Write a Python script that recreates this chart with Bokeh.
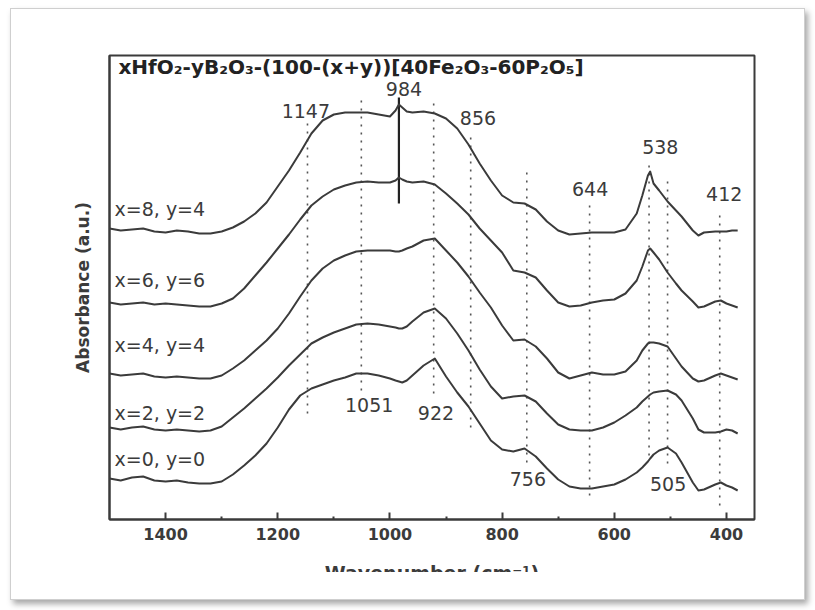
from bokeh.plotting import figure
from bokeh.models import Range1d, Label, FixedTicker
from bokeh.layouts import column
from bokeh.embed import file_html
from bokeh.resources import INLINE

# ---- data: FTIR absorbance (stacked, a.u.) vs wavenumber (cm^-1) ----
wavenumber = [1500, 1480, 1460, 1440, 1420, 1400, 1380, 1360, 1340, 1320,
              1300, 1280, 1260, 1240, 1220, 1200, 1180, 1160, 1140, 1120,
              1100, 1080, 1060, 1040, 1020, 1000, 990, 984, 978, 970,
              960, 940, 920, 900, 880, 860, 840, 820, 800, 780,
              760, 740, 720, 700, 680, 660, 640, 620, 600, 580,
              560, 550, 540, 536, 530, 520, 505, 490, 480, 460,
              450, 440, 420, 410, 400, 390, 380]

abs_x0_y0 = [0.41, 0.39, 0.42, 0.43, 0.39, 0.38, 0.39, 0.37, 0.36, 0.36,
             0.38, 0.45, 0.54, 0.64, 0.76, 0.92, 1.10, 1.24, 1.31, 1.35,
             1.39, 1.42, 1.46, 1.46, 1.44, 1.41, 1.39, 1.38, 1.37, 1.39,
             1.44, 1.54, 1.61, 1.43, 1.27, 1.13, 0.96, 0.79, 0.70, 0.68,
             0.71, 0.63, 0.51, 0.40, 0.33, 0.31, 0.31, 0.33, 0.35, 0.40,
             0.47, 0.52, 0.58, 0.61, 0.65, 0.69, 0.72, 0.66, 0.57, 0.37,
             0.29, 0.30, 0.35, 0.37, 0.34, 0.32, 0.29]

abs_x2_y2 = [0.92, 0.90, 0.92, 0.93, 0.90, 0.89, 0.90, 0.89, 0.88, 0.89,
             0.93, 1.02, 1.11, 1.21, 1.31, 1.42, 1.54, 1.65, 1.76, 1.82,
             1.87, 1.91, 1.95, 1.96, 1.95, 1.93, 1.92, 1.91, 1.91, 1.93,
             1.98, 2.07, 2.11, 2.01, 1.86, 1.69, 1.50, 1.33, 1.21, 1.23,
             1.24, 1.18, 1.06, 0.95, 0.90, 0.89, 0.89, 0.92, 0.97, 1.04,
             1.12, 1.18, 1.23, 1.25, 1.27, 1.28, 1.29, 1.25, 1.19, 1.01,
             0.90, 0.87, 0.87, 0.88, 0.90, 0.89, 0.86]

abs_x4_y4 = [1.46, 1.44, 1.45, 1.46, 1.43, 1.42, 1.43, 1.42, 1.41, 1.41,
             1.44, 1.51, 1.59, 1.69, 1.79, 1.91, 2.06, 2.23, 2.39, 2.51,
             2.59, 2.64, 2.68, 2.69, 2.69, 2.69, 2.68, 2.68, 2.69, 2.71,
             2.73, 2.79, 2.81, 2.69, 2.57, 2.43, 2.27, 2.12, 1.94, 1.79,
             1.80, 1.73, 1.61, 1.47, 1.41, 1.44, 1.47, 1.45, 1.45, 1.48,
             1.59, 1.69, 1.76, 1.77, 1.77, 1.76, 1.73, 1.61, 1.53, 1.41,
             1.38, 1.39, 1.44, 1.46, 1.44, 1.42, 1.40]

abs_x6_y6 = [2.17, 2.15, 2.16, 2.17, 2.15, 2.16, 2.15, 2.14, 2.13, 2.13,
             2.16, 2.21, 2.31, 2.44, 2.57, 2.71, 2.85, 3.00, 3.14, 3.23,
             3.30, 3.34, 3.37, 3.38, 3.37, 3.37, 3.39, 3.42, 3.40, 3.38,
             3.37, 3.38, 3.35, 3.26, 3.16, 3.05, 2.91, 2.79, 2.67, 2.49,
             2.47, 2.42, 2.29, 2.17, 2.13, 2.14, 2.17, 2.19, 2.20, 2.26,
             2.39, 2.53, 2.69, 2.71, 2.67, 2.60, 2.47, 2.36, 2.29, 2.18,
             2.12, 2.13, 2.18, 2.19, 2.16, 2.14, 2.12]

abs_x8_y4 = [2.91, 2.89, 2.90, 2.91, 2.88, 2.87, 2.89, 2.88, 2.86, 2.86,
             2.88, 2.92, 2.98, 3.06, 3.17, 3.33, 3.49, 3.67, 3.86, 3.99,
             4.05, 4.07, 4.07, 4.07, 4.05, 4.03, 4.09, 4.15, 4.12, 4.08,
             4.07, 4.08, 4.06, 4.01, 3.91, 3.75, 3.56, 3.39, 3.24, 3.17,
             3.16, 3.10, 2.98, 2.89, 2.85, 2.86, 2.87, 2.87, 2.87, 2.90,
             3.06, 3.24, 3.44, 3.48, 3.36, 3.29, 3.18, 3.09, 3.03, 2.89,
             2.84, 2.87, 2.88, 2.88, 2.88, 2.89, 2.89]

spectra = [abs_x0_y0, abs_x2_y2, abs_x4_y4, abs_x6_y6, abs_x8_y4]
compositions = ["x=0, y=0", "x=2, y=2", "x=4, y=4", "x=6, y=6", "x=8, y=4"]

band_centres = [1147, 1051, 922, 856, 756, 644, 538, 505, 412]
marked_band = 984
x_ticks = [1400, 1200, 1000, 800, 600, 400]
x_minor_ticks = [1300, 1100, 900, 700, 500]

title_text = "xHfO\u2082-yB\u2082O\u2083-(100-(x+y))[40Fe\u2082O\u2083-60P\u2082O\u2085]"

# ---- styling / layout ----
INK = "#3b3b3b"
FONT = "DejaVu Sans"

p = figure(width=793, height=590,
           x_range=Range1d(1500, 350), y_range=Range1d(0, 4.64),
           output_backend="svg", toolbar_location=None,
           min_border_left=98, min_border_right=50,
           min_border_top=46, min_border_bottom=80,
           background_fill_color="white", border_fill_color="white",
           # the lower strip of the canvas is cropped away, cutting the
           # x-axis title through the middle
           styles={"clip-path": "inset(0px 0px 27px 0px)"})

p.outline_line_color = INK
p.outline_line_width = 2
p.xgrid.visible = False
p.ygrid.visible = False

xa = p.xaxis[0]
xa.ticker = FixedTicker(ticks=x_ticks, minor_ticks=x_minor_ticks)
xa.axis_line_color = INK
xa.axis_line_width = 2
xa.major_tick_in = 7
xa.major_tick_out = 0
xa.major_tick_line_width = 2
xa.major_tick_line_color = INK
xa.minor_tick_in = 3
xa.minor_tick_out = 0
xa.minor_tick_line_width = 2
xa.minor_tick_line_color = INK
xa.major_label_standoff = 8
xa.major_label_text_font = FONT
xa.major_label_text_font_size = "16px"
xa.major_label_text_font_style = "bold"
xa.major_label_text_color = INK
xa.axis_label = "Wavenumber (cm\u207b\u00b9)"
xa.axis_label_standoff = 19
xa.axis_label_text_font = FONT
xa.axis_label_text_font_size = "19px"
xa.axis_label_text_font_style = "bold"
xa.axis_label_text_color = INK

ya = p.yaxis[0]
ya.ticker = FixedTicker(ticks=[])
ya.major_tick_line_color = None
ya.minor_tick_line_color = None
ya.major_label_standoff = 0
ya.axis_line_color = INK
ya.axis_line_width = 2
ya.axis_label = "Absorbance (a.u.)"
ya.axis_label_standoff = 17
ya.axis_label_text_font = FONT
ya.axis_label_text_font_size = "17px"
ya.axis_label_text_font_style = "bold"
ya.axis_label_text_color = INK

# band guides (dotted) and the marked 984 band (solid)
guide_span = {1147: (1.06, 3.97), 1051: (1.29, 4.21), 922: (1.26, 4.19),
              856: (0.92, 3.84), 756: (0.57, 3.49), 644: (0.24, 3.16),
              538: (0.64, 3.58), 505: (0.56, 3.39), 412: (0.14, 3.07)}
p.segment(x0=band_centres, x1=band_centres,
          y0=[guide_span[b][0] for b in band_centres],
          y1=[guide_span[b][1] for b in band_centres],
          line_color="#555555", line_width=1.6, line_dash="2 6")
p.segment(x0=[marked_band], x1=[marked_band], y0=[3.16], y1=[4.22],
          line_color="#222222", line_width=2.2)

# spectra
for vals in spectra:
    p.line(wavenumber, vals, line_color=INK, line_width=2, line_join="round")

# composition labels
comp_label_y = [0.61, 1.07, 1.75, 2.40, 3.11]
for name, ly in zip(compositions, comp_label_y):
    p.add_layout(Label(x=1491, y=ly, text=name, text_align="left",
                       text_baseline="middle", text_font=FONT,
                       text_font_size="19px", text_color=INK))

# band value labels
band_label_at = {1147: (1150, 4.09), 1051: (1037, 1.15), 984: (975, 4.31),
                 922: (918, 1.07), 856: (843, 4.02), 756: (754, 0.41),
                 644: (643, 3.31), 538: (518, 3.73), 505: (504, 0.36),
                 412: (404, 3.26)}
for band in band_centres + [marked_band]:
    lx, ly = band_label_at[band]
    p.add_layout(Label(x=lx, y=ly, text=str(band), text_align="center",
                       text_baseline="middle", text_font=FONT,
                       text_font_size="19px", text_color=INK))

# composition formula inside the frame
p.add_layout(Label(x=1484, y=4.53, text=title_text, text_align="left",
                   text_baseline="middle", text_font=FONT,
                   text_font_size="20px", text_font_style="bold",
                   text_color="#222222"))

page = column(p, margin=(8, 0, 0, 10),
              styles={"border": "1px solid #cfcfcf",
                      "box-shadow": "3px 4px 6px rgba(0,0,0,0.35)",
                      "background-color": "white"})

open("out.html", "w").write(file_html(page, INLINE))
